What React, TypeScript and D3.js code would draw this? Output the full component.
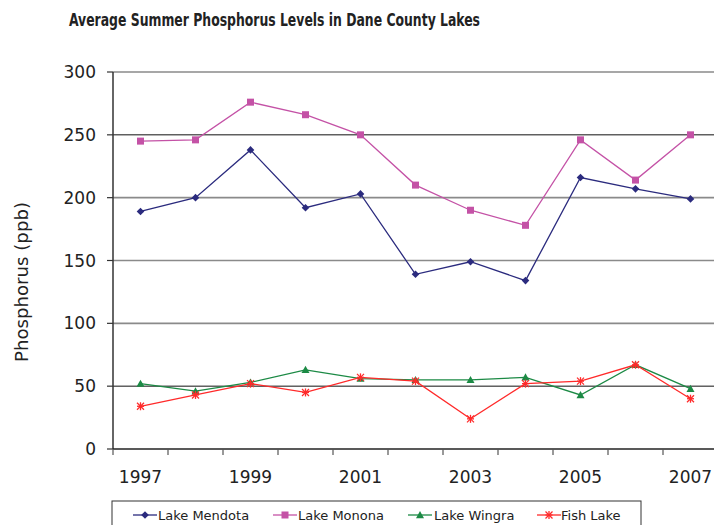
import React from "react";
import * as d3 from "d3";

const years = [1997, 1998, 1999, 2000, 2001, 2002, 2003, 2004, 2005, 2006, 2007];
const mendota = [189, 200, 238, 192, 203, 139, 149, 134, 216, 207, 199];
const monona = [245, 246, 276, 266, 250, 210, 190, 178, 246, 214, 250];
const wingra = [52, 46, 53, 63, 56, 55, 55, 57, 43, 67, 48];
const fish = [34, 43, 52, 45, 57, 54, 24, 52, 54, 67, 40];
const yTicks = [0, 50, 100, 150, 200, 250, 300];
const xLabels = [1997, 1999, 2001, 2003, 2005, 2007];
const seriesNames = ["Lake Mendota", "Lake Monona", "Lake Wingra", "Fish Lake"];

const colors = ["#2b2b7e", "#c452a6", "#1c8a45", "#ff2a2a"];
const markers = ["diamond", "square", "triangle", "star"];
const FONT = "'DejaVu Sans', Verdana, sans-serif";

function Marker({ type, x, y, color }: { type: string; x: number; y: number; color: string }) {
  if (type === "diamond") {
    const s = 3.8;
    return <path d={`M${x},${y - s}L${x + s},${y}L${x},${y + s}L${x - s},${y}Z`} fill={color} />;
  }
  if (type === "square") {
    const s = 3.5;
    return <rect x={x - s} y={y - s} width={2 * s} height={2 * s} fill={color} />;
  }
  if (type === "triangle") {
    const s = 4;
    return <path d={`M${x},${y - s}L${x + s},${y + s * 0.8}L${x - s},${y + s * 0.8}Z`} fill={color} />;
  }
  const s = 3.5;
  return (
    <g stroke={color} strokeWidth={1.3}>
      <line x1={x - s} y1={y - s} x2={x + s} y2={y + s} />
      <line x1={x - s} y1={y + s} x2={x + s} y2={y - s} />
      <line x1={x} y1={y - s - 0.5} x2={x} y2={y + s + 0.5} />
      <line x1={x - s} y1={y} x2={x + s} y2={y} />
    </g>
  );
}

export default function App() {
  const W = 714, H = 525;
  const left = 113, right = 718, top = 72, bottom = 449;
  const x = d3.scaleBand<number>().domain(years).range([left, right]).padding(0);
  const y = d3.scaleLinear().domain([0, 300]).range([bottom, top]);
  const cx = (yr: number) => (x(yr) as number) + x.bandwidth() / 2;
  const all = [mendota, monona, wingra, fish];
  const line = d3.line<number>().x((_, i) => cx(years[i])).y((v) => y(v));

  const legendItems = [
    { lx: 133, tx: 158 },
    { lx: 273, tx: 298 },
    { lx: 408, tx: 434 },
    { lx: 537, tx: 561 },
  ];

  return (
    <svg width={W} height={H} style={{ position: "absolute", left: 0, top: 0, background: "#fff" }}>
      <text x={274.5} y={26} textAnchor="middle" fontFamily="'DejaVu Sans Condensed', 'DejaVu Sans', sans-serif" fontWeight="bold" fontSize={17} fill="#222" textLength={411} lengthAdjust="spacingAndGlyphs">
        Average Summer Phosphorus Levels in Dane County Lakes
      </text>
      {yTicks.map((t) => {
        const dark = t === 250 || t === 50 || t === 0;
        return (
          <g key={t}>
            {t > 0 && (
              <line x1={left} x2={W} y1={y(t)} y2={y(t)} stroke={dark ? "#111" : "#8a8a8a"} strokeWidth={dark ? 1 : 1.6} />
            )}
            <line x1={left - 6} x2={left} y1={y(t)} y2={y(t)} stroke="#333" strokeWidth={1.2} />
            <text x={96} y={y(t) + 6} textAnchor="end" fontFamily={FONT} fontSize={17} fill="#222">
              {t}
            </text>
          </g>
        );
      })}
      <line x1={left} x2={left} y1={top} y2={bottom} stroke="#333" strokeWidth={1.5} />
      <line x1={left} x2={W} y1={bottom} y2={bottom} stroke="#222" strokeWidth={1.5} />
      {years.map((yr) => (
        <line key={yr} x1={x(yr) as number} x2={x(yr) as number} y1={bottom} y2={bottom + 6} stroke="#555" strokeWidth={1.2} />
      ))}
      {xLabels.map((yr) => (
        <text key={yr} x={cx(yr)} y={483} textAnchor="middle" fontFamily={FONT} fontSize={17} fill="#222">
          {yr}
        </text>
      ))}
      <text transform={`translate(28,282) rotate(-90)`} textAnchor="middle" fontFamily={FONT} fontSize={17} fill="#222" textLength={160} lengthAdjust="spacingAndGlyphs">
        Phosphorus (ppb)
      </text>
      {all.map((s, si) => (
        <g key={si}>
          <path d={line(s) || ""} fill="none" stroke={colors[si]} strokeWidth={1.3} />
          {s.map((v, i) => (
            <Marker key={i} type={markers[si]} x={cx(years[i])} y={y(v)} color={colors[si]} />
          ))}
        </g>
      ))}
      <rect x={112} y={501} width={529} height={40} fill="#fff" stroke="#333" strokeWidth={1} />
      {legendItems.map((it, i) => (
        <g key={i}>
          <line x1={it.lx} x2={it.lx + 24} y1={515} y2={515} stroke={colors[i]} strokeWidth={1.3} />
          <Marker type={markers[i]} x={it.lx + 12} y={515} color={colors[i]} />
          <text x={it.tx} y={520} fontFamily={FONT} fontSize={13} fill="#222">
            {seriesNames[i]}
          </text>
        </g>
      ))}
    </svg>
  );
}
